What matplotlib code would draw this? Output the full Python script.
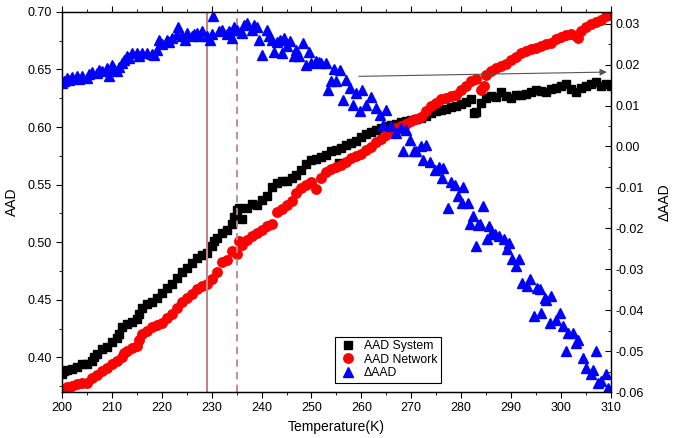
import numpy as np
import matplotlib.pyplot as plt
from matplotlib.ticker import MultipleLocator

plt.rcParams['font.family'] = ['Liberation Sans', 'DejaVu Sans']

# AAD System (black squares)
t_sys = [200, 200.5, 201, 202, 203, 204, 205, 206, 206.5, 207, 208, 209, 210, 211, 211.5,
         212, 213, 214, 215, 215.5, 216, 217, 218, 219, 220, 221, 222, 223, 224, 225,
         226, 227, 228, 229, 230, 230.5, 231, 232, 233, 234, 234.5, 235, 235.5, 236, 237,
         238, 239, 240, 241, 242, 243, 244, 245, 246, 247, 248, 249, 250, 251, 252,
         253, 254, 255, 255.5, 256, 257, 258, 259, 260, 261, 262, 263, 264, 265, 266,
         267, 268, 269, 270, 271, 272, 273, 274, 275, 276, 277, 278, 279, 280, 281,
         282, 282.5, 283, 284, 285, 286, 287, 288, 289, 290, 291, 292, 293, 294, 295,
         296, 297, 298, 299, 300, 301, 302, 303, 304, 305, 306, 307, 308, 309, 310]
aad_sys = [0.386, 0.388, 0.389, 0.390, 0.392, 0.394, 0.394, 0.397, 0.400, 0.403, 0.407, 0.409, 0.413, 0.417, 0.420,
           0.426, 0.429, 0.431, 0.433, 0.438, 0.443, 0.446, 0.448, 0.452, 0.456, 0.460, 0.464, 0.469, 0.474, 0.478,
           0.482, 0.486, 0.489, 0.491, 0.497, 0.501, 0.504, 0.508, 0.511, 0.516, 0.522, 0.528, 0.530, 0.520, 0.530,
           0.533, 0.532, 0.537, 0.540, 0.548, 0.551, 0.553, 0.553, 0.556, 0.558, 0.563, 0.568, 0.571, 0.572, 0.574,
           0.576, 0.579, 0.580, 0.569, 0.582, 0.584, 0.586, 0.588, 0.591, 0.594, 0.596, 0.597, 0.599, 0.601, 0.602,
           0.603, 0.604, 0.605, 0.606, 0.607, 0.608, 0.610, 0.612, 0.614, 0.615, 0.616, 0.617, 0.618, 0.620, 0.622,
           0.624, 0.612, 0.613, 0.621, 0.625, 0.627, 0.626, 0.630, 0.627, 0.625, 0.628, 0.628, 0.629, 0.630, 0.632,
           0.631, 0.630, 0.633, 0.634, 0.636, 0.637, 0.633, 0.630, 0.634, 0.636, 0.637, 0.639, 0.636, 0.637, 0.636]

# AAD Network (red circles)
t_net = [200, 201, 202, 203, 204, 205, 206, 207, 208, 209, 210, 211, 212, 212.5, 213,
         214, 215, 215.5, 216, 217, 218, 219, 220, 221, 222, 223, 224, 225, 226, 227,
         228, 229, 230, 231, 232, 233, 234, 235, 235.5, 236, 237, 238, 239, 240, 241,
         242, 243, 244, 245, 246, 247, 248, 249, 250, 251, 252, 253, 254, 255, 256,
         257, 258, 259, 260, 261, 262, 263, 264, 265, 266, 267, 268, 269, 270, 271,
         272, 273, 274, 275, 276, 277, 278, 279, 280, 281, 282, 283, 284, 284.5, 285,
         286, 287, 288, 289, 290, 291, 292, 293, 294, 295, 296, 297, 298, 299, 300,
         301, 302, 303, 303.5, 304, 305, 306, 307, 308, 309, 310]
aad_net = [0.372, 0.374, 0.375, 0.377, 0.378, 0.378, 0.382, 0.385, 0.388, 0.391, 0.394, 0.397, 0.400, 0.404, 0.406,
           0.408, 0.410, 0.415, 0.420, 0.423, 0.426, 0.428, 0.430, 0.434, 0.438, 0.443, 0.448, 0.452, 0.455, 0.459,
           0.462, 0.464, 0.468, 0.474, 0.483, 0.485, 0.492, 0.490, 0.501, 0.498, 0.502, 0.505, 0.508, 0.511, 0.514,
           0.516, 0.526, 0.529, 0.532, 0.536, 0.543, 0.547, 0.550, 0.552, 0.546, 0.556, 0.561, 0.564, 0.565, 0.567,
           0.570, 0.573, 0.575, 0.577, 0.580, 0.583, 0.587, 0.590, 0.593, 0.596, 0.599, 0.601, 0.603, 0.605, 0.607,
           0.609, 0.614, 0.618, 0.621, 0.624, 0.625, 0.627, 0.628, 0.632, 0.636, 0.640, 0.642, 0.632, 0.636, 0.645,
           0.649, 0.651, 0.653, 0.655, 0.658, 0.661, 0.664, 0.666, 0.668, 0.669, 0.670, 0.672, 0.673, 0.676, 0.678,
           0.680, 0.681, 0.679, 0.677, 0.683, 0.687, 0.689, 0.691, 0.693, 0.696, 0.697]

# Delta AAD (blue triangles, right axis)
t_delta = [200, 200.5, 201, 201.5, 202, 203, 203.5, 204, 205, 205.5, 206, 207, 207.5, 208, 209,
           209.5, 210, 210.5, 211, 211.5, 212, 212.5, 213, 213.5, 214, 215, 215.5, 216, 217, 218,
           218.5, 219, 219.5, 220, 221, 221.5, 222, 223, 223.2, 224, 224.6, 225, 226, 226.5, 227,
           227.5, 228, 229, 229.6, 230, 230.3, 231.5, 232, 233, 233.5, 234, 234.5, 235, 236, 236.5,
           237, 238, 238.5, 239, 239.5, 240, 241, 241.5, 242, 242.5, 243, 243.7, 244, 244.5, 245,
           245.7, 246.4, 247, 247.6, 248.4, 249, 249.5, 250, 251, 251.6, 252, 253, 253.3, 254, 254.5,
           255, 255.7, 256.4, 257, 257.7, 258.4, 259, 259.7, 260.2, 261, 262, 263, 263.7, 264.4, 265,
           266, 267, 268, 268.4, 269, 269.7, 270.5, 271, 272, 272.4, 273, 273.7, 274.7, 275.5, 276.1,
           276.4, 277.4, 278, 278.8, 279.4, 280.1, 280.4, 281.4, 281.8, 282.4, 283, 283.4, 283.8, 284.4, 285.1,
           285.5, 286, 286.8, 287.5, 288.5, 289.1, 289.5, 290.1, 291, 291.5, 292.1, 293.1, 293.8, 294.5, 295.1,
           295.8, 296.1, 296.8, 297.1, 297.8, 298.1, 299.1, 299.8, 300.5, 301.1, 301.5, 302.5, 303.1, 303.5, 304.5,
           305.1, 306.1, 306.5, 307, 307.5, 308.1, 309.1, 309.5, 310]
d_aad = [0.0155, 0.0160, 0.0167, 0.0162, 0.0170, 0.0173, 0.0165, 0.0172, 0.0167, 0.0178, 0.0183, 0.0180, 0.0188, 0.0185, 0.0192,
         0.0173, 0.0200, 0.0190, 0.0185, 0.0195, 0.0203, 0.0212, 0.0220, 0.0215, 0.0228, 0.0228, 0.0220, 0.0228, 0.0228, 0.0227,
         0.0224, 0.0235, 0.0261, 0.0250, 0.0261, 0.0255, 0.0265, 0.0275, 0.0293, 0.0270, 0.0261, 0.0278, 0.0269, 0.0275, 0.0277,
         0.0270, 0.0281, 0.0270, 0.0261, 0.0275, 0.0318, 0.0281, 0.0285, 0.0275, 0.0281, 0.0266, 0.0293, 0.0285, 0.0277, 0.0298,
         0.0302, 0.0285, 0.0298, 0.0292, 0.0261, 0.0224, 0.0285, 0.0270, 0.0261, 0.0232, 0.0255, 0.0261, 0.0228, 0.0265, 0.0245,
         0.0257, 0.0220, 0.0236, 0.0220, 0.0253, 0.0200, 0.0230, 0.0205, 0.0208, 0.0206, 0.0204, 0.0204, 0.0139, 0.0159, 0.0190,
         0.0159, 0.0188, 0.0114, 0.0163, 0.0143, 0.0102, 0.0131, 0.0086, 0.0139, 0.0102, 0.0122, 0.0094, 0.0078, 0.0053, 0.0090,
         0.0049, 0.0033, 0.0045, -0.0012, 0.0041, 0.0016, -0.0010, -0.0012, 0.0000, -0.0033, 0.0004, -0.0037, -0.0057, -0.0050, -0.0077,
         -0.0053, -0.0151, -0.0086, -0.0094, -0.0122, -0.0139, -0.0098, -0.0139, -0.0190, -0.0171, -0.0243, -0.0192, -0.0190, -0.0145, -0.0227,
         -0.0194, -0.0215, -0.0215, -0.0220, -0.0227, -0.0251, -0.0235, -0.0276, -0.0292, -0.0276, -0.0333, -0.0341, -0.0325, -0.0415, -0.0345,
         -0.0349, -0.0407, -0.0370, -0.0374, -0.0431, -0.0366, -0.0423, -0.0407, -0.0439, -0.0500, -0.0456, -0.0456, -0.0480, -0.0472, -0.0517,
         -0.0541, -0.0557, -0.0545, -0.0499, -0.0578, -0.0574, -0.0557, -0.0590, -0.0595]

fig = plt.figure(figsize=(6.81, 4.38), dpi=100)
ax = fig.add_axes([0.091, 0.105, 0.806, 0.868])
ax2 = ax.twinx()

l1, = ax.plot(t_sys, aad_sys, 's', color='black', markersize=6.3, label='AAD System')
l2, = ax.plot(t_net, aad_net, 'o', color='red', markersize=6.8, label='AAD Network')
l3, = ax2.plot(t_delta, d_aad, '^', color='blue', markersize=7.5, label='ΔAAD')

ax.axvline(229, color='#c08585', linewidth=1.5)
ax.axvline(235, color='#c08585', linewidth=1.3, linestyle=(0, (4, 3)))

ax.annotate('', xy=(309.2, 0.6477), xytext=(259.5, 0.644),
            arrowprops=dict(arrowstyle='-|>', color='#555555', lw=0.8,
                            mutation_scale=10, shrinkA=0, shrinkB=0))

ax.set_xlim(200, 310)
ax.set_ylim(0.37, 0.70)
ax2.set_ylim(-0.06, 0.0329)

ax.xaxis.set_major_locator(MultipleLocator(10))
ax.xaxis.set_minor_locator(MultipleLocator(5))
ax.yaxis.set_major_locator(MultipleLocator(0.05))
ax.yaxis.set_minor_locator(MultipleLocator(0.025))
ax2.yaxis.set_major_locator(MultipleLocator(0.01))
ax2.yaxis.set_minor_locator(MultipleLocator(0.005))
ax.yaxis.set_major_formatter(plt.FormatStrFormatter('%.2f'))
ax2.yaxis.set_major_formatter(plt.FormatStrFormatter('%.2f'))

ax.tick_params(axis='x', which='both', direction='out', top=True, labelsize=9)
ax.tick_params(axis='y', which='both', direction='out', labelsize=9)
ax.tick_params(which='major', length=4)
ax.tick_params(which='minor', length=2.5)
ax2.tick_params(axis='y', which='both', direction='in', labelsize=9)
ax2.tick_params(which='major', length=4)
ax2.tick_params(which='minor', length=2.5)

for a in (ax, ax2):
    for s in a.spines.values():
        s.set_linewidth(0.9)

ax.set_xlabel('Temperature(K)', fontsize=10, labelpad=4)
ax.set_ylabel('AAD', fontsize=10, labelpad=6)
ax2.set_ylabel('ΔAAD', fontsize=10, labelpad=10)

leg = ax2.legend(handles=[l1, l2, l3], loc='lower left', bbox_to_anchor=(0.497, 0.024),
                 fontsize=8.8, fancybox=False, edgecolor='black', framealpha=1,
                 borderpad=0.3, labelspacing=0.12, handletextpad=0.6, handlelength=1.5,
                 borderaxespad=0)
leg.get_frame().set_linewidth(0.8)

fig.savefig('out.png', dpi=100)
